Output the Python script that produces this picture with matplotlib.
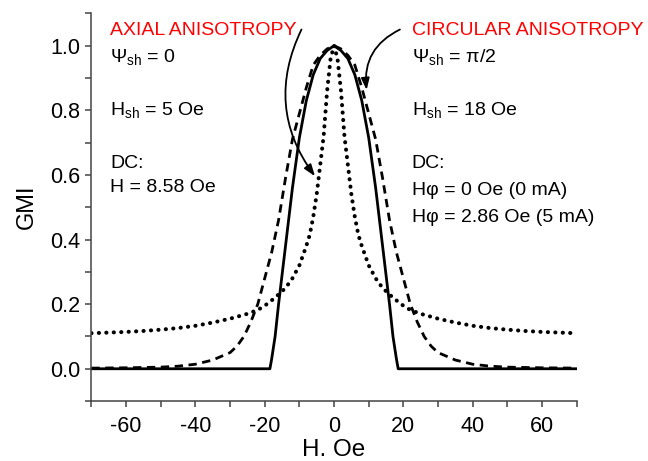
import matplotlib
matplotlib.use("Agg")
import matplotlib.pyplot as plt
from matplotlib.ticker import MultipleLocator

plt.rcParams['font.family'] = ['Liberation Sans', 'DejaVu Sans']
plt.rcParams['mathtext.default'] = 'regular'
plt.rcParams['axes.unicode_minus'] = False

# Solid curve (axial anisotropy, DC)
h_solid = [-70, -18.5, -18, -17, -16, -14, -12, -10, -8, -6, -4, -2, 0,
           2, 4, 6, 8, 10, 12, 14, 16, 17, 18, 18.5, 70]
gmi_solid = [0.0, 0.0, 0.03, 0.10, 0.20, 0.38, 0.56, 0.715, 0.83, 0.91, 0.96, 0.985, 1.0,
             0.985, 0.96, 0.91, 0.83, 0.715, 0.56, 0.38, 0.20, 0.10, 0.03, 0.0, 0.0]

# Dashed curve
h_dash = [-70, -60, -50, -45, -40, -35, -30, -28, -26, -24, -22, -20, -18, -16, -14, -12, -10, -8, -6, -4, -2, 0,
          2, 4, 6, 8, 10, 12, 14, 16, 18, 20, 22, 24, 26, 28, 30, 35, 40, 45, 50, 60, 70]
gmi_dash = [0.002, 0.003, 0.005, 0.008, 0.014, 0.027, 0.05, 0.07, 0.10, 0.145, 0.20, 0.28, 0.36, 0.46, 0.59, 0.71, 0.79, 0.87, 0.94, 0.97, 0.99, 1.0,
            0.99, 0.97, 0.94, 0.87, 0.79, 0.71, 0.59, 0.46, 0.36, 0.28, 0.20, 0.145, 0.10, 0.07, 0.05, 0.027, 0.014, 0.008, 0.005, 0.003, 0.002]

# Dotted curve
h_dot = [-70, -65, -60, -55, -50, -45, -40, -35, -30, -25, -22, -20, -17, -14, -12, -10, -8, -7, -6, -5, -4, -3, -2, -1, 0,
         1, 2, 3, 4, 5, 6, 7, 8, 10, 12, 14, 17, 20, 22, 25, 30, 35, 40, 45, 50, 55, 60, 65, 70]
gmi_dot = [0.11, 0.112, 0.114, 0.117, 0.121, 0.126, 0.133, 0.143, 0.155, 0.17, 0.182, 0.195, 0.22, 0.25, 0.28, 0.32, 0.38, 0.415, 0.47, 0.54, 0.63, 0.72, 0.86, 0.96, 1.0,
           0.96, 0.86, 0.72, 0.63, 0.54, 0.47, 0.415, 0.38, 0.32, 0.28, 0.25, 0.22, 0.195, 0.182, 0.17, 0.155, 0.143, 0.133, 0.126, 0.121, 0.117, 0.114, 0.112, 0.11]

x_ticks = [-60, -40, -20, 0, 20, 40, 60]
y_ticks = [0.0, 0.2, 0.4, 0.6, 0.8, 1.0]

fig = plt.figure(figsize=(6.48, 4.61), dpi=100)
ax = fig.add_axes([0.141, 0.130, 0.749, 0.841])

ax.plot(h_dot, gmi_dot, color='black', lw=2.9, linestyle=(0, (0.05, 1.8)),
        dash_capstyle='round', solid_capstyle='round')
ax.plot(h_dash, gmi_dash, color='black', lw=2.0, linestyle=(0, (3.0, 2.0)))
ax.plot(h_solid, gmi_solid, color='black', lw=2.0)

ax.set_xlim(-70, 70)
ax.set_ylim(-0.1, 1.1)
ax.set_xticks(x_ticks)
ax.set_yticks(y_ticks)
ax.set_yticklabels([f"{v:.1f}" for v in y_ticks])
ax.xaxis.set_minor_locator(MultipleLocator(10))
ax.yaxis.set_minor_locator(MultipleLocator(0.1))
for s in ['top', 'right']:
    ax.spines[s].set_visible(False)
for s in ['left', 'bottom']:
    ax.spines[s].set_color('#444444')
    ax.spines[s].set_linewidth(1.1)
ax.tick_params(which='both', direction='out', color='#444444', width=1.1, length=4.5)
ax.tick_params(which='major', labelsize=15.5)
ax.tick_params(axis='x', which='major', pad=6.5)
ax.tick_params(axis='y', which='major', pad=3.5)
ax.set_xlabel('H. Oe', fontsize=17.5, labelpad=1)
ax.set_ylabel('GMI', fontsize=17, labelpad=9)

fs = 14
lx, rx = -64.6, 22.4
ax.text(lx, 1.034, 'AXIAL ANISOTROPY', color='red', fontsize=fs, va='baseline', clip_on=False)
ax.text(lx, 0.951, 'Ψ$_{sh}$ = 0', fontsize=fs, va='baseline')
ax.text(lx, 0.786, 'H$_{sh}$ = 5 Oe', fontsize=fs, va='baseline')
ax.text(lx, 0.621, 'DC:', fontsize=fs, va='baseline')
ax.text(lx, 0.547, 'H = 8.58 Oe', fontsize=fs, va='baseline')

ax.text(rx, 1.034, 'CIRCULAR ANISOTROPY', color='red', fontsize=fs, va='baseline', clip_on=False)
ax.text(rx, 0.950, 'Ψ$_{sh}$ = π/2', fontsize=fs, va='baseline')
ax.text(rx, 0.786, 'H$_{sh}$ = 18 Oe', fontsize=fs, va='baseline')
ax.text(rx, 0.621, 'DC:', fontsize=fs, va='baseline')
ax.text(rx, 0.537, 'Hφ = 0 Oe (0 mA)', fontsize=fs, va='baseline')
ax.text(rx, 0.453, 'Hφ = 2.86 Oe (5 mA)', fontsize=fs, va='baseline')

ax.annotate('', xy=(-5.5, 0.596), xytext=(-9.4, 1.05),
            arrowprops=dict(arrowstyle='-|>,head_length=0.7,head_width=0.25', color='black', lw=1.3,
                            connectionstyle='arc3,rad=0.3', shrinkA=0, shrinkB=0),
            annotation_clip=False)
ax.annotate('', xy=(9.4, 0.863), xytext=(19.0, 1.05),
            arrowprops=dict(arrowstyle='-|>,head_length=0.7,head_width=0.25', color='black', lw=1.3,
                            connectionstyle='arc3,rad=0.35', shrinkA=0, shrinkB=0),
            annotation_clip=False)

fig.savefig('out.png', dpi=100)
